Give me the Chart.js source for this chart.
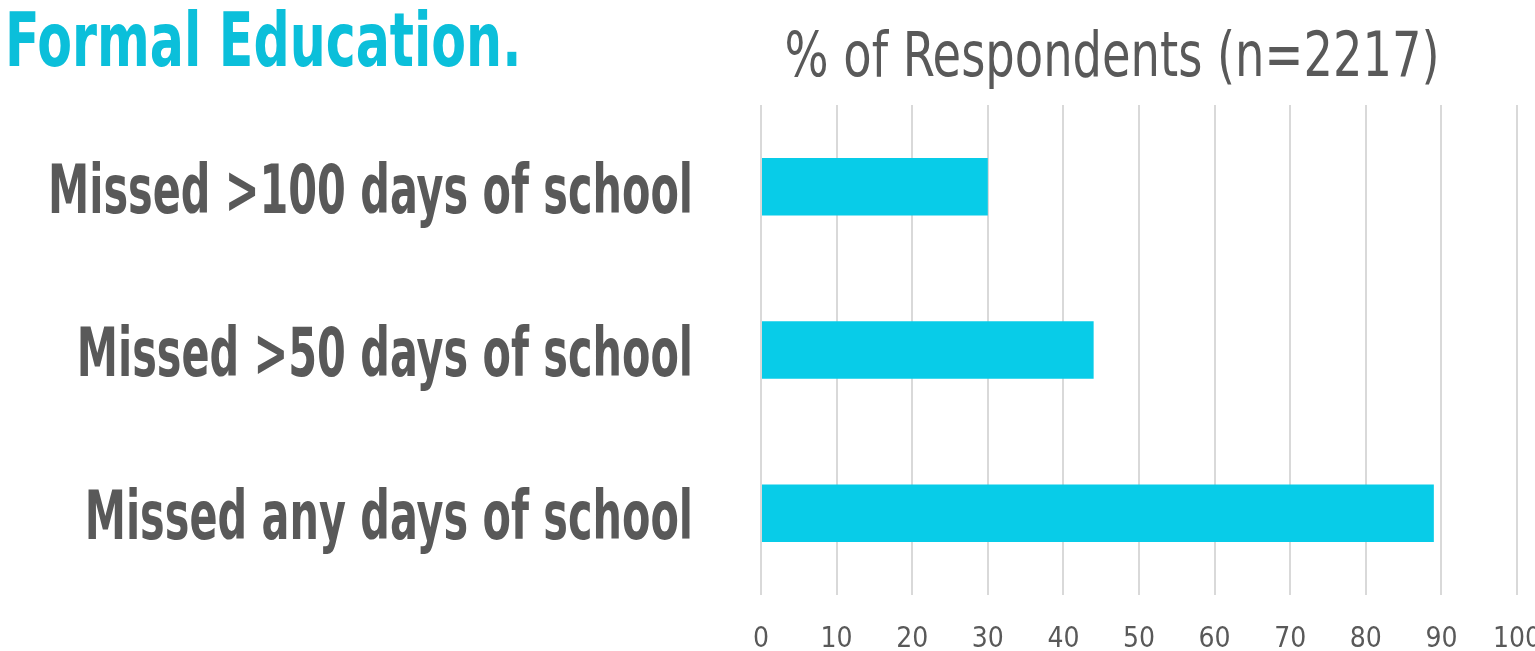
<!DOCTYPE html>
<html><head><meta charset="utf-8">
<script src="https://cdn.jsdelivr.net/npm/chart.js@4"></script>
<style>
html,body{margin:0;padding:0;width:1535px;height:651px;overflow:hidden;background:#fff;}
#wrap{position:absolute;left:0;top:0;width:1535px;height:651px;}
.h{position:absolute;white-space:nowrap;line-height:1;font-family:'DejaVu Sans Condensed','DejaVu Sans',sans-serif;}
#title{left:5px;top:3px;font-size:75px;font-weight:bold;color:#0bbfda;transform-origin:0 0;transform:scaleX(0.75);}
#xtitle{left:1112px;top:23px;font-size:63px;color:#595959;transform-origin:0 0;}
</style></head><body>
<div id="wrap"><canvas id="c"></canvas></div>
<div class="h" id="title"></div>
<div class="h" id="xtitle"></div>
<script>
const chartTitle = 'Formal Education.';
const axisTitle = '% of Respondents (n=2217)';
const categories = ['Missed >100 days of school', 'Missed >50 days of school', 'Missed any days of school'];
const values = [30, 44, 89];
const tickValues = [0, 10, 20, 30, 40, 50, 60, 70, 80, 90, 100];

document.getElementById('title').textContent = chartTitle;
const xt = document.getElementById('xtitle');
xt.textContent = axisTitle;
(function () {
  const w = xt.getBoundingClientRect().width;
  const sx = 655 / w;
  xt.style.transform = 'translateX(' + (-655 / 2) + 'px) scaleX(' + sx + ')';
})();

const FONT = "'DejaVu Sans Condensed','DejaVu Sans',sans-serif";

const catLabels = {
  id: 'catLabels',
  afterDraw(chart) {
    const s = chart.scales.y;
    const ctx = chart.ctx;
    ctx.save();
    ctx.font = 'bold 68px ' + FONT;
    ctx.fillStyle = '#595959';
    ctx.textAlign = 'right';
    ctx.textBaseline = 'alphabetic';
    const sx = 645 / ctx.measureText(categories[0]).width;
    categories.forEach((c, i) => {
      const y = s.getPixelForTick(i);
      ctx.save();
      ctx.translate(s.right - 68, y + 26);
      ctx.scale(sx, 1);
      ctx.fillText(c, 0, 0);
      ctx.restore();
    });
    ctx.restore();
  }
};

new Chart(document.getElementById('c'), {
  type: 'bar',
  data: {
    labels: categories,
    datasets: [{ data: values, backgroundColor: '#08cce8', borderWidth: 0,
      categoryPercentage: 1, barPercentage: 0.352 }]
  },
  plugins: [catLabels],
  options: {
    indexAxis: 'y',
    responsive: true,
    maintainAspectRatio: false,
    animation: false,
    layout: { padding: { top: 105, right: 18, bottom: 0, left: 0 } },
    plugins: { legend: { display: false }, tooltip: { enabled: false } },
    scales: {
      x: {
        min: 0, max: 100,
        afterBuildTicks(s) { s.ticks = tickValues.map(v => ({ value: v })); },
        afterFit(s) { s.height = 56; s.paddingLeft = 0; s.paddingRight = 0; },
        grid: { color: '#d9d9d9', lineWidth: 2, drawTicks: false },
        border: { display: false },
        ticks: { padding: 28, color: '#595959', font: { family: FONT, size: 28 } }
      },
      y: {
        afterFit(s) { s.width = 761; s.paddingTop = 0; s.paddingBottom = 0; },
        grid: { display: false, drawTicks: false },
        border: { display: false },
        ticks: { display: false }
      }
    }
  }
});
</script>
</body></html>
